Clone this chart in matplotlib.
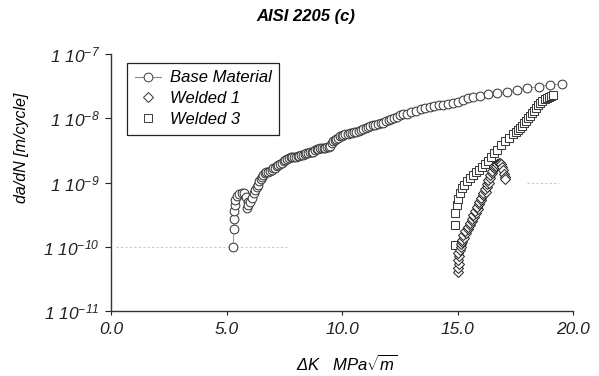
import matplotlib
matplotlib.use("Agg")
import matplotlib.pyplot as plt
from matplotlib.lines import Line2D

plt.rcParams['font.family'] = ['Liberation Sans', 'DejaVu Sans']
plt.rcParams['mathtext.fontset'] = 'custom'
plt.rcParams['mathtext.rm'] = 'Liberation Sans:italic'
plt.rcParams['mathtext.it'] = 'Liberation Sans:italic'
plt.rcParams['mathtext.default'] = 'rm'

# ---------------- data ----------------
base_dk = [5.30, 5.32, 5.33, 5.34, 5.36, 5.38, 5.45, 5.55, 5.65, 5.75, 5.85, 5.92, 5.90, 5.95,
           6.02, 6.10, 6.18, 6.25, 6.30, 6.36, 6.42, 6.48, 6.54, 6.60, 6.67, 6.73, 6.80, 6.88,
           6.95, 7.02, 7.10, 7.18, 7.25, 7.32, 7.40, 7.48, 7.55, 7.62, 7.70, 7.78, 7.85, 7.92,
           8.00, 8.08, 8.15, 8.22, 8.30, 8.38, 8.45, 8.53, 8.60, 8.68, 8.75, 8.82, 8.90, 8.97,
           9.05, 9.12, 9.20, 9.28, 9.35, 9.42, 9.50, 9.56, 9.62, 9.68, 9.75, 9.82, 9.90, 9.98,
           10.06, 10.15, 10.24, 10.33, 10.42, 10.52, 10.62, 10.72, 10.82, 10.92, 11.02, 11.12,
           11.23, 11.34, 11.45, 11.56, 11.67, 11.78, 11.90, 12.02, 12.14, 12.26, 12.38, 12.51,
           12.64, 12.80, 13.00, 13.20, 13.40, 13.60, 13.80, 14.00, 14.20, 14.37, 14.59, 14.81,
           15.02, 15.24, 15.45, 15.67, 15.97, 16.32, 16.73, 17.14, 17.58, 18.03, 18.52, 19.00,
           19.52]
base_dadn = [1.00e-10, 1.9e-10, 2.7e-10, 3.6e-10, 4.5e-10, 5.4e-10, 6.2e-10, 6.6e-10, 6.9e-10,
             6.8e-10, 6.0e-10, 5.0e-10, 4.0e-10, 4.4e-10,
             5.0e-10, 5.8e-10, 6.8e-10, 7.6e-10, 8.5e-10, 9.3e-10, 1.05e-9, 1.12e-9, 1.20e-9,
             1.32e-9, 1.41e-9, 1.45e-9, 1.48e-9, 1.51e-9,
             1.58e-9, 1.66e-9, 1.70e-9, 1.78e-9, 1.86e-9, 1.91e-9, 2.00e-9, 2.14e-9, 2.24e-9,
             2.29e-9, 2.40e-9, 2.51e-9, 2.51e-9, 2.45e-9,
             2.51e-9, 2.57e-9, 2.63e-9, 2.69e-9, 2.69e-9, 2.82e-9, 2.88e-9, 2.88e-9, 2.95e-9,
             3.02e-9, 3.02e-9, 3.16e-9, 3.31e-9, 3.31e-9,
             3.39e-9, 3.39e-9, 3.47e-9, 3.47e-9, 3.55e-9, 3.63e-9, 3.72e-9, 4.07e-9, 4.37e-9,
             4.57e-9, 4.79e-9, 5.01e-9, 5.25e-9, 5.37e-9,
             5.50e-9, 5.62e-9, 5.75e-9, 5.89e-9, 5.89e-9, 6.03e-9, 6.17e-9, 6.31e-9, 6.61e-9,
             6.92e-9, 7.08e-9, 7.41e-9,
             7.59e-9, 7.76e-9, 7.94e-9, 8.13e-9, 8.32e-9, 8.51e-9, 8.91e-9, 9.33e-9, 9.77e-9,
             1.00e-8, 1.05e-8, 1.12e-8,
             1.17e-8, 1.17e-8, 1.23e-8, 1.30e-8, 1.38e-8, 1.45e-8, 1.50e-8, 1.55e-8, 1.58e-8,
             1.62e-8, 1.66e-8, 1.70e-8,
             1.82e-8, 1.90e-8, 2.04e-8, 2.16e-8, 2.24e-8, 2.40e-8, 2.45e-8, 2.57e-8, 2.75e-8,
             2.95e-8, 3.09e-8, 3.31e-8,
             3.41e-8]

w1_dk = [15.02, 15.00, 15.05, 15.01, 15.06, 15.03, 15.10, 15.14, 15.13, 15.21, 15.20, 15.27,
         15.25, 15.35, 15.34, 15.45, 15.44, 15.55, 15.54, 15.64, 15.62, 15.70, 15.67, 15.78,
         15.76, 15.87, 15.84, 15.95, 15.92, 16.03, 16.00, 16.12, 16.10, 16.22, 16.19, 16.29,
         16.26, 16.35, 16.32, 16.42, 16.40, 16.50, 16.48, 16.58, 16.56, 16.66, 16.72, 16.78,
         16.84, 16.89, 16.94, 16.98, 17.01, 17.04, 17.06]
w1_dadn = [4.1e-11, 4.7e-11, 5.4e-11, 6.2e-11, 7.1e-11, 7.9e-11, 8.9e-11, 1.00e-10, 1.10e-10,
           1.17e-10, 1.29e-10, 1.38e-10, 1.51e-10, 1.62e-10, 1.78e-10, 1.91e-10, 2.04e-10,
           2.19e-10, 2.34e-10, 2.51e-10, 2.69e-10, 2.95e-10, 3.16e-10, 3.39e-10, 3.63e-10,
           3.89e-10, 4.17e-10, 4.57e-10, 4.90e-10, 5.37e-10, 5.75e-10, 6.31e-10, 6.76e-10,
           7.24e-10, 7.94e-10, 8.51e-10, 9.33e-10, 1.00e-9, 1.10e-9, 1.17e-9, 1.29e-9,
           1.41e-9, 1.51e-9, 1.70e-9, 1.78e-9, 1.82e-9, 1.91e-9, 2.00e-9,
           2.00e-9, 1.91e-9, 1.74e-9, 1.55e-9, 1.38e-9, 1.23e-9, 1.15e-9]

w3_dk = [14.89, 14.89, 14.89, 14.98, 15.02, 15.11, 15.19, 15.28, 15.41, 15.54, 15.67, 15.80,
         15.93, 16.06, 16.19, 16.32, 16.45, 16.58, 16.71, 16.88, 17.06, 17.23, 17.40, 17.53,
         17.62, 17.71, 17.79, 17.88, 17.97, 18.05, 18.14, 18.23, 18.31, 18.40, 18.48, 18.57,
         18.66, 18.79, 18.87, 18.96, 19.05, 19.13]
w3_dadn = [1.07e-10, 2.19e-10, 3.35e-10, 4.47e-10, 5.50e-10, 6.92e-10, 8.13e-10, 9.12e-10,
           1.05e-9, 1.17e-9, 1.30e-9, 1.45e-9, 1.57e-9, 1.74e-9, 1.95e-9, 2.16e-9, 2.51e-9,
           2.88e-9, 3.24e-9, 3.80e-9, 4.47e-9, 4.90e-9, 5.69e-9, 6.17e-9, 6.61e-9, 7.08e-9,
           7.59e-9, 8.51e-9, 9.12e-9, 1.00e-8, 1.08e-8, 1.20e-8, 1.29e-8, 1.45e-8, 1.62e-8,
           1.74e-8, 1.86e-8, 2.00e-8, 2.07e-8, 2.14e-8, 2.21e-8, 2.29e-8]

ytick_vals = [1e-11, 1e-10, 1e-9, 1e-8, 1e-7]
ytick_labels = ['1 10$^{-11}$', '1 10$^{-10}$', '1 10$^{-9}$', '1 10$^{-8}$', '1 10$^{-7}$']
xtick_vals = [0.0, 5.0, 10.0, 15.0, 20.0]
xtick_labels = ['0.0', '5.0', '10.0', '15.0', '20.0']

# ---------------- figure ----------------
fig = plt.figure(figsize=(5.99, 3.76), dpi=100)
ax = fig.add_axes([111/599, 1-311/376, 462/599, 257/376])

edge = '#3a3a3a'
ax.plot(base_dk, base_dadn, '-', color='#888888', lw=0.6, marker='o', ms=6.3,
        mfc='white', mec=edge, mew=0.75, label='Base Material', zorder=3)
ax.plot(w3_dk, w3_dadn, 's', ms=6.0, mfc='white', mec=edge, mew=0.75,
        label='Welded 3', zorder=4)
ax.plot(w1_dk, w1_dadn, 'D', ms=4.6, mfc='white', mec='#2a2a2a', mew=0.75,
        label='Welded 1', zorder=5)

# faint remnants of grid lines
ax.axhline(1e-10, xmin=0.01, xmax=0.38, color='#c8c8c8', lw=0.8, ls=(0, (2, 2)), zorder=1)
ax.axhline(1e-9, xmin=0.90, xmax=0.97, color='#c8c8c8', lw=0.8, ls=(0, (2, 2)), zorder=1)

ax.set_yscale('log')
ax.set_ylim(1e-11, 1e-7)
ax.set_xlim(0, 20)
ax.set_yticks(ytick_vals)
ax.set_yticklabels(ytick_labels)
ax.yaxis.set_minor_locator(matplotlib.ticker.NullLocator())
ax.set_xticks(xtick_vals)
ax.set_xticklabels(xtick_labels)

for s in ['top', 'right']:
    ax.spines[s].set_visible(False)
for s in ['left', 'bottom']:
    ax.spines[s].set_color('#333333')
    ax.spines[s].set_linewidth(1.0)

ax.tick_params(axis='y', direction='out', length=4, width=0.8, pad=4, labelsize=12.5, colors='#222222')
ax.tick_params(axis='x', direction='out', length=3, width=0.8, pad=5, labelsize=12.5, colors='#222222')
for lab in ax.get_xticklabels() + ax.get_yticklabels():
    lab.set_fontstyle('italic')

fig.text(306/599, 1-16/376, 'AISI 2205 (c)', ha='center', va='center',
         fontsize=12, fontweight='bold', fontstyle='italic')
fig.text(22/599, 1-148/376, 'da/dN [m/cycle]', ha='center', va='center',
         rotation=90, fontsize=11.5, fontstyle='italic')
fig.text(347/599, 1-364/376, r'ΔK   MPa$\sqrt{m}$', ha='center', va='center',
         fontsize=12, fontstyle='italic')

handles = [
    Line2D([], [], color='#888888', lw=0.8, marker='o', ms=6.3, mfc='white', mec=edge, mew=0.7),
    Line2D([], [], ls='none', marker='D', ms=4.6, mfc='white', mec='#333333', mew=0.7),
    Line2D([], [], ls='none', marker='s', ms=6.0, mfc='white', mec=edge, mew=0.7),
]
leg = ax.legend(handles, ['Base Material', 'Welded 1', 'Welded 3'],
                loc='upper left', bbox_to_anchor=(0.035, 0.965), borderaxespad=0,
                frameon=True, fancybox=False, edgecolor='#222222', framealpha=1,
                prop={'style': 'italic', 'size': 12}, handlelength=1.6,
                handletextpad=0.5, labelspacing=0.35, borderpad=0.45)
leg.get_frame().set_linewidth(0.9)

fig.savefig('out.png', dpi=100)
